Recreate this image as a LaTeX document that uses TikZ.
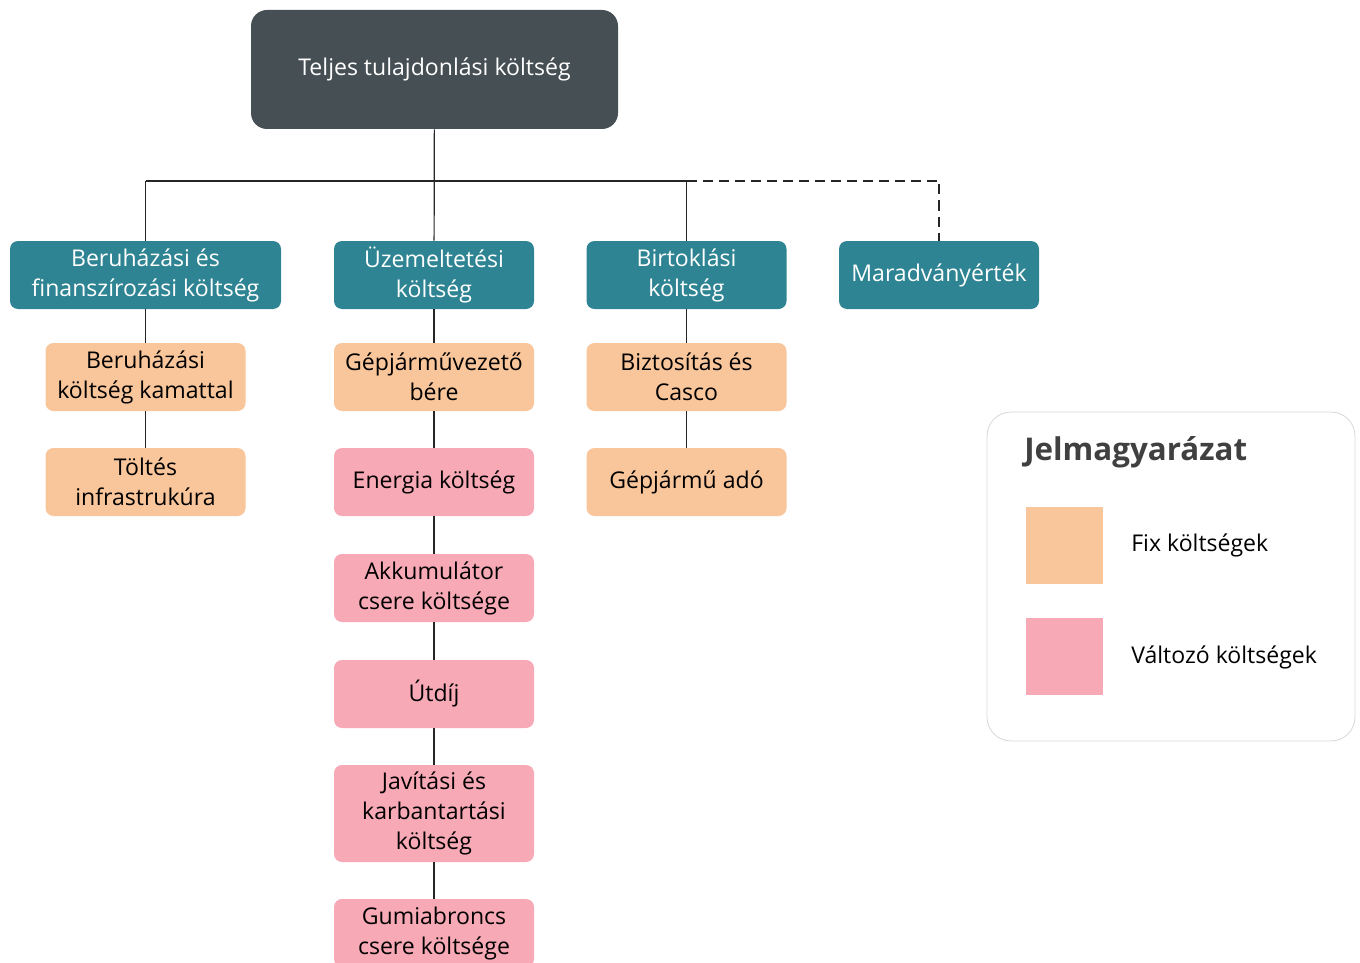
\documentclass[tikz,border=0pt]{standalone}
\usepackage{fontspec}
\setmainfont{Open Sans}
\usetikzlibrary{positioning,calc}
\definecolor{topgray}{RGB}{69,79,84}
\definecolor{teal}{RGB}{46,132,147}
\definecolor{fixcol}{RGB}{249,197,154}
\definecolor{varcol}{RGB}{247,169,181}
\definecolor{frame}{RGB}{214,214,214}
\definecolor{titlecol}{RGB}{64,64,64}

\begin{document}
\begin{tikzpicture}[x=0.75pt, y=-0.75pt,
    every node/.style={font=\fontsize{17.3}{22.5}\selectfont, align=center, inner sep=2pt},
    topbox/.style={fill=topgray, text=white, rounded corners=12pt, minimum width=275.25pt, minimum height=89.25pt},
    groupbox/.style={fill=teal, text=white, rounded corners=6pt, minimum width=150pt, minimum height=51pt},
    fixbox/.style={fill=fixcol, rounded corners=6pt, minimum width=150pt, minimum height=51pt},
    varbox/.style={fill=varcol, rounded corners=6pt, minimum width=150pt, minimum height=51pt},
    link/.style={line width=0.9pt, black!85},
    swatch/.style={minimum width=57.75pt, minimum height=57.75pt, inner sep=0pt}]
    \useasboundingbox (0,0) rectangle (1360,963);

    % Root
    \node[topbox] (tco) at (434.5,69.5) {Teljes tulajdonlási költség};

    % Cost groups
    \node[groupbox, minimum width=203.25pt] (invest) at (145.5,275) {Beruházási és\\finanszírozási költség};
    \node[groupbox] (oper) at (434,275) {Üzemeltetési\\költség};
    \node[groupbox] (own) at (686.5,275) {Birtoklási\\költség};
    \node[groupbox] (resid) at (939,275) {Maradványérték};

    % Investment column
    \node[fixbox] (interest) at (145.5,377) {Beruházási\\költség kamattal};
    \node[fixbox] (charging) at (145.5,482) {Töltés\\infrastrukúra};

    % Operating column
    \node[fixbox] (driver) at (434,377) {Gépjárművezető\\bére};
    \node[varbox] (energy) at (434,482) {Energia költség};
    \node[varbox] (battery) at (434,588) {Akkumulátor\\csere költsége};
    \node[varbox] (toll) at (434,694) {Útdíj};
    \node[varbox, minimum height=72.75pt] (repair) at (434,813.5) {Javítási és\\karbantartási\\költség};
    \node[varbox] (tyre) at (434,933) {Gumiabroncs\\csere költsége};

    % Ownership column
    \node[fixbox] (insur) at (686.5,377) {Biztosítás és\\Casco};
    \node[fixbox] (tax) at (686.5,482) {Gépjármű adó};

    % Connectors
    \coordinate (bus) at (434,181);
    \draw[link] (tco) -- (oper);
    \draw[link] (bus -| invest) -- (bus -| own);
    \draw[link] (bus -| invest) -- (invest);
    \draw[link] (bus -| own) -- (own);
    \draw[link, dash pattern=on 7.5pt off 4.5pt] (bus -| own) -| (resid);
    \draw[link] (invest) -- (interest) -- (charging);
    \draw[link] (oper) -- (driver) -- (energy) -- (battery) -- (toll) -- (repair) -- (tyre);
    \draw[link] (own) -- (insur) -- (tax);

    % Legend
    \node[draw=frame, line width=0.6pt, rounded corners=18pt, minimum width=276pt, minimum height=246.75pt] (legend) at (1171,576.5) {};
    \node[anchor=base west, inner sep=0pt, text=titlecol, font=\fontsize{23.5}{26}\selectfont\bfseries] (legtitle) at (1024,460) {Jelmagyarázat};
    \node[swatch, fill=fixcol] (fixsw) at (1064.5,545.5) {};
    \node[swatch, fill=varcol] (varsw) at (1064.5,656.5) {};
    \node[anchor=west, inner sep=0pt] (fixlab) at (1131,545) {Fix költségek};
    \node[anchor=west, inner sep=0pt] (varlab) at (1131,657) {Változó költségek};
\end{tikzpicture}
\end{document}
